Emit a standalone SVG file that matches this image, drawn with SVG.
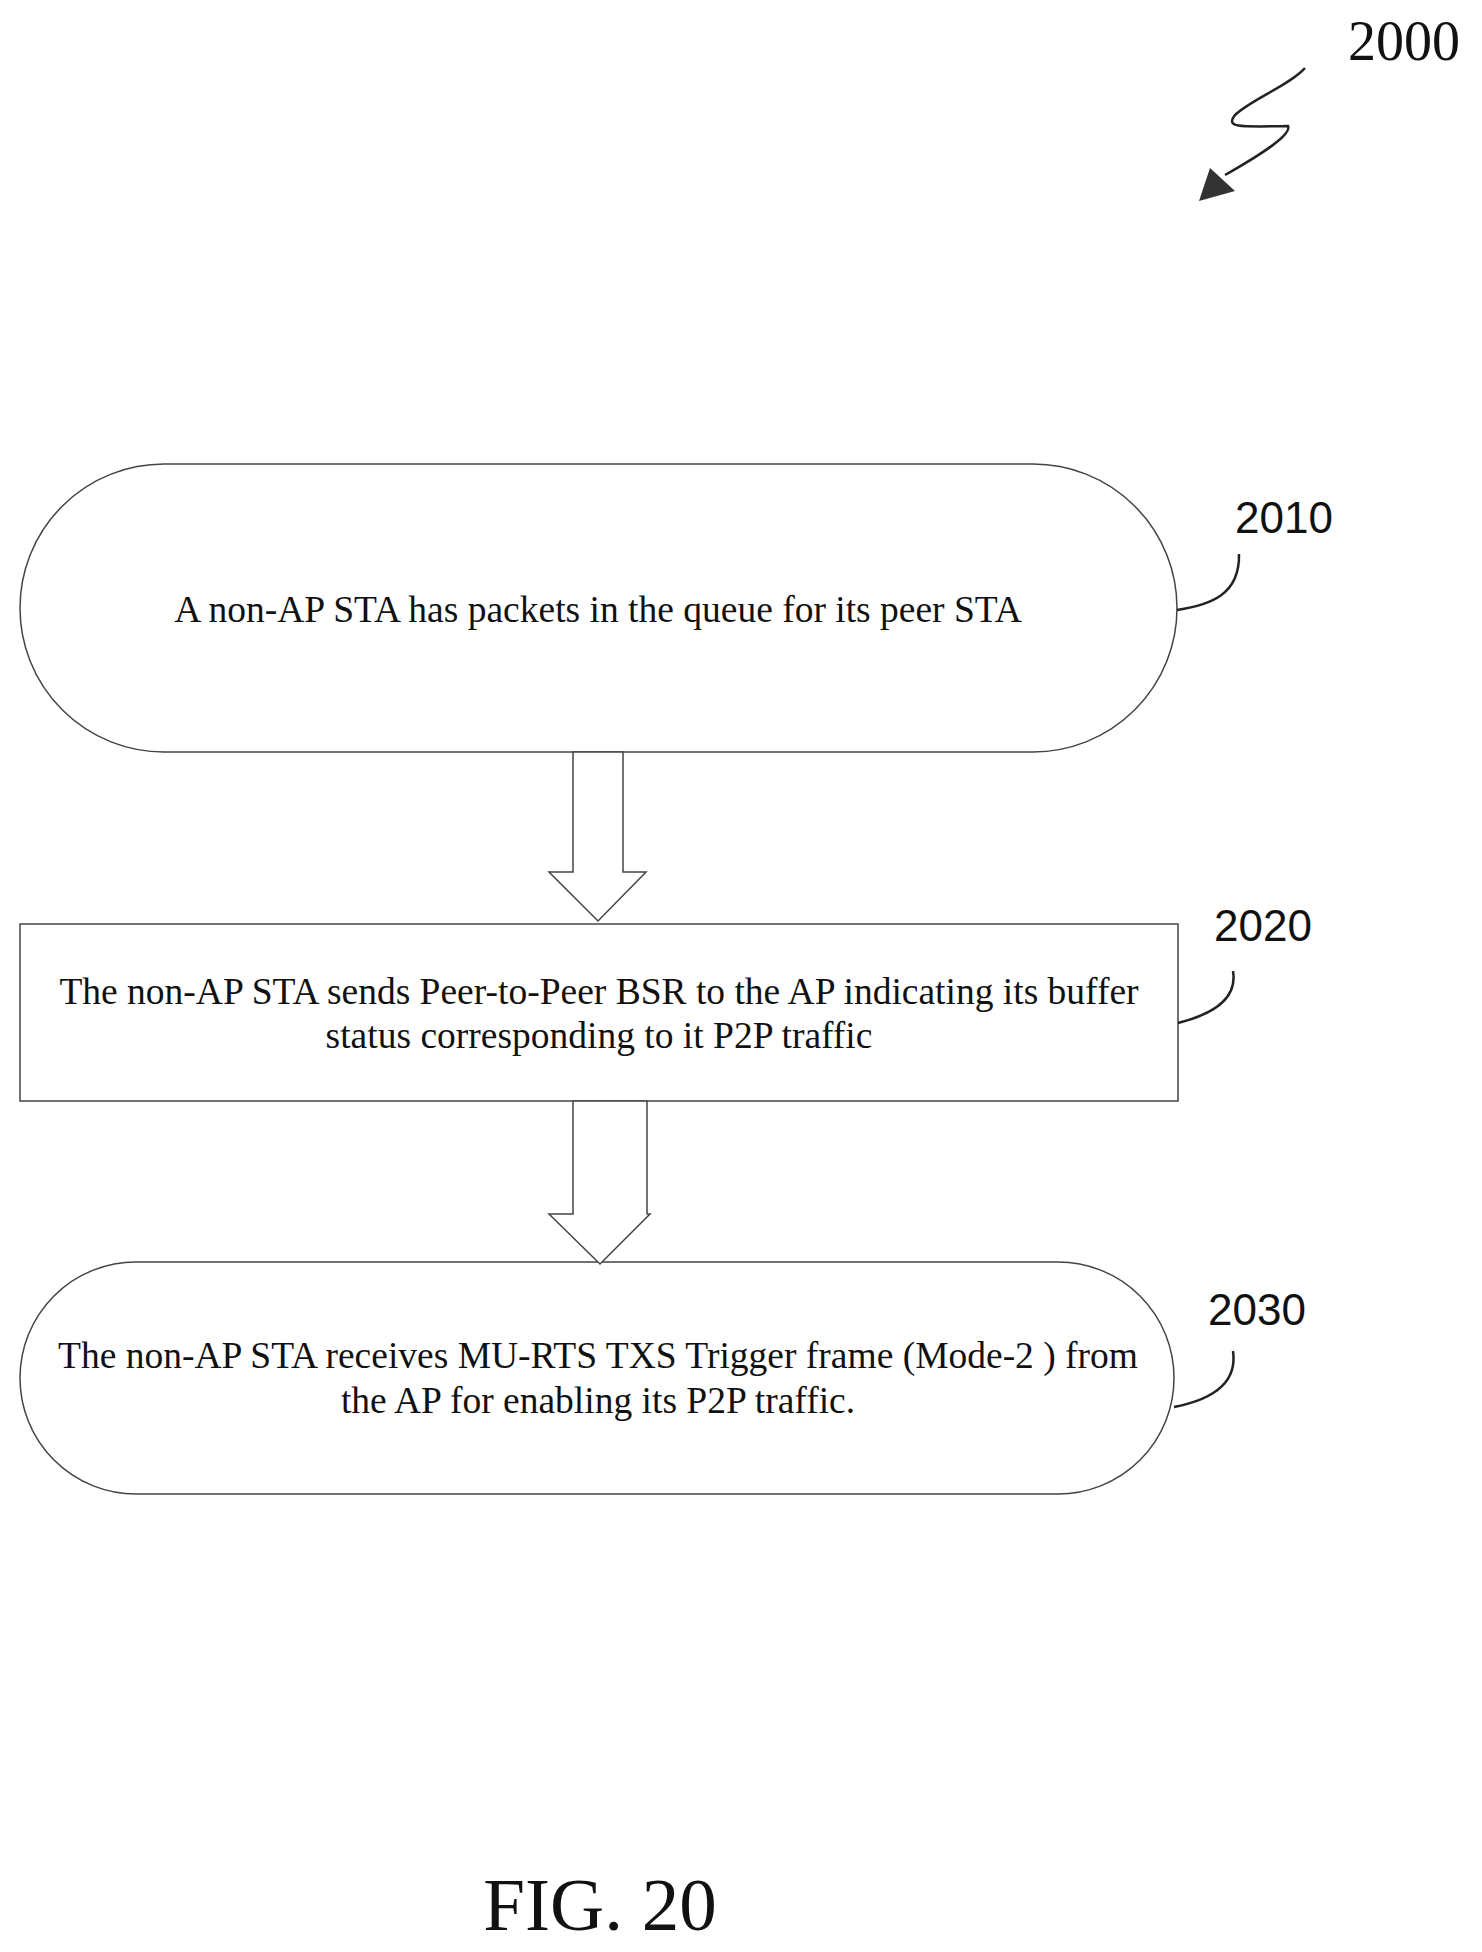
<svg xmlns="http://www.w3.org/2000/svg" width="1482" height="1952" viewBox="0 0 1482 1952">
<style>
.s{fill:#fff;stroke:#444;stroke-width:1.5}
.l{fill:none;stroke:#222;stroke-width:2.5}
.t{font-family:"Liberation Serif",serif;font-size:37.5px;fill:#111;text-anchor:middle}
.n{font-family:"Liberation Sans",sans-serif;font-size:44px;fill:#111}
</style>
<rect width="1482" height="1952" fill="#fff"/>
<g id="ref2000">
<text x="1348" y="60" font-family="Liberation Serif,serif" font-size="56" fill="#111">2000</text>
<path class="l" d="M1305,68 C1290,85 1250,100 1235,115 C1225,128 1240,127 1288,126 C1292,135 1260,155 1225,175"/>
<polygon points="1199,201 1210,168 1235,191" fill="#333"/>
</g>
<g id="n2010">
<rect class="s" x="20" y="464" width="1157" height="288" rx="144" ry="144"/>
<text class="t" x="598" y="622">A non-AP STA has packets in the queue for its peer STA</text>
<text class="n" x="1235" y="533">2010</text>
<path class="l" d="M1177,610 C1210,605 1240,595 1239,554"/>
</g>
<g id="n2020">
<rect class="s" x="20" y="924" width="1158" height="177"/>
<text class="t" x="599" y="1004">The non-AP STA sends Peer-to-Peer BSR to the AP indicating its buffer</text>
<text class="t" x="599" y="1048">status corresponding to it P2P traffic</text>
<text class="n" x="1214" y="941">2020</text>
<path class="l" d="M1178,1023 C1210,1015 1238,1000 1233,971"/>
</g>
<g id="n2030">
<rect class="s" x="20" y="1262" width="1154" height="232" rx="116" ry="116"/>
<text class="t" x="598" y="1368">The non-AP STA receives MU-RTS TXS Trigger frame (Mode-2 ) from</text>
<text class="t" x="598" y="1413">the AP for enabling its P2P traffic.</text>
<text class="n" x="1208" y="1325">2030</text>
<path class="l" d="M1174,1407 C1210,1400 1238,1385 1233,1351"/>
</g>
<g id="connectors">
<polygon class="s" points="573,752 623,752 623,872 646,872 598,921 549,872 573,872"/>
<polygon class="s" points="573,1101 647,1101 647,1214 650,1214 600,1264 549,1214 573,1214"/>
</g>
<text x="600" y="1930" font-family="Liberation Serif,serif" font-size="75" fill="#111" text-anchor="middle">FIG. 20</text>
</svg>
